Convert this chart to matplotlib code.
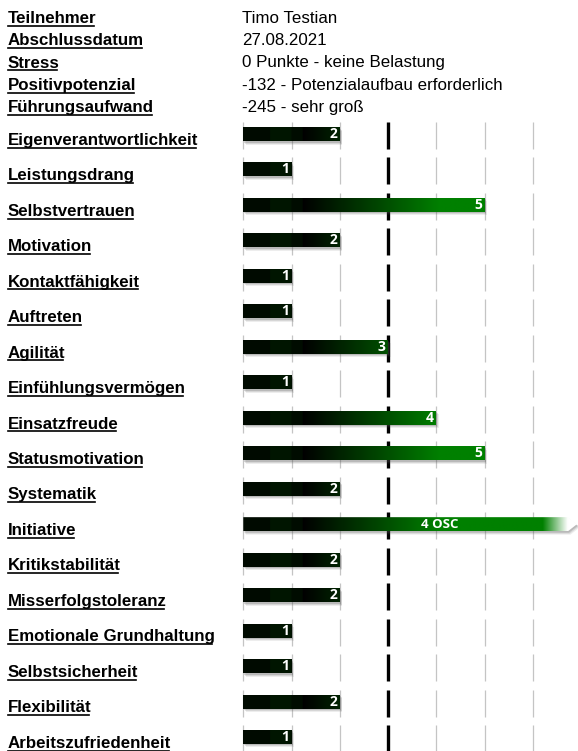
import numpy as np
import matplotlib
matplotlib.use("Agg")
import matplotlib.pyplot as plt
from matplotlib.patches import Polygon
from matplotlib.lines import Line2D

# ======================
# DATA
# ======================
header_labels = ["Teilnehmer", "Abschlussdatum", "Stress", "Positivpotenzial", "Führungsaufwand"]
header_values = ["Timo Testian", "27.08.2021", "0 Punkte - keine Belastung",
                 "-132 - Potenzialaufbau erforderlich", "-245 - sehr groß"]

categories = ["Eigenverantwortlichkeit", "Leistungsdrang", "Selbstvertrauen", "Motivation",
              "Kontaktfähigkeit", "Auftreten", "Agilität", "Einfühlungsvermögen", "Einsatzfreude",
              "Statusmotivation", "Systematik", "Initiative", "Kritikstabilität",
              "Misserfolgstoleranz", "Emotionale Grundhaltung", "Selbstsicherheit",
              "Flexibilität", "Arbeitszufriedenheit"]
values = [2, 1, 5, 2, 1, 1, 3, 1, 4, 5, 2, 4, 2, 2, 1, 1, 2, 1]
osc = [False] * 11 + [True] + [False] * 6
grid_ticks = [0, 1, 2, 3, 4, 5, 6]
mid_tick = 3

# ======================
# LAYOUT (pixels)
# ======================
W, H = 578, 751
x0_px, unit_px = 243.3, 48.25
row0_px, row_px = 134.0, 35.47
bar_h = 14 / row_px
osc_end = (577 - x0_px) / unit_px
FS = 12.2

fig = plt.figure(figsize=(W / 100, H / 100), dpi=100)
ax = fig.add_axes([0, 0, 1, 1])
xmin, xmax = -x0_px / unit_px, (W - x0_px) / unit_px
ymin, ymax = (H - row0_px) / row_px, -row0_px / row_px
ax.axis("off")


def px_to_fig(x, y):
    return x / W, 1 - y / H


# ======================
# GRID SEGMENTS
# ======================
for i in range(len(categories)):
    for t in grid_ticks:
        if t == mid_tick:
            ax.vlines(t, i - 12 / row_px, i + 15 / row_px, color="black", lw=2.4, zorder=1)
        else:
            ax.vlines(t, i - 12 / row_px, i + 15 / row_px, color="#c4c4c4", lw=0.9, zorder=1)

# ======================
# BAR COLOURS
# ======================
xs = np.linspace(0, osc_end, 800)
px = x0_px + xs * unit_px
ramp = np.clip((px - 303) / 137, 0, 1) * 128 / 255
block = np.where(xs < 0.56, 0.04, np.where(xs < 1.0, 0.085, 0.05))
block = np.where(px < 303, block, 0)
g = np.maximum(ramp, block)
rgb = np.zeros((1, len(xs), 3))
rgb[0, :, 1] = g
fade = np.clip((px - 543) / 25, 0, 1)
for c in range(3):
    rgb[0, :, c] = rgb[0, :, c] * (1 - fade) + fade

# ======================
# BARS
# ======================
for i, (v, o) in enumerate(zip(values, osc)):
    top, bot = i - bar_h / 2, i + bar_h / 2
    end = osc_end if o else v
    if o:
        tip = end - 9 / unit_px
        pts = [(0, top), (tip, top), (end, i), (tip, bot), (0, bot)]
    else:
        pts = [(0, top), (end, top), (end, bot), (0, bot)]
    # shadow
    for k, a in [(3.5, 0.10), (2.5, 0.15), (1.5, 0.22)]:
        sh = Polygon([(p + k * 0.7 / unit_px, q + k / row_px) for p, q in pts],
                     closed=True, fc="#555555", ec="none", alpha=a, zorder=2)
        ax.add_patch(sh)
    clip = Polygon(pts, closed=True, fc="none", ec="none", zorder=3)
    ax.add_patch(clip)
    im = ax.imshow(rgb, extent=[0, osc_end, bot, top], aspect="auto",
                   interpolation="bilinear", zorder=3)
    im.set_clip_path(clip)
    if o:
        ax.text(4.08, i, f"{v} OSC", color="white", fontsize=9.5, fontweight="bold",
                family="Open Sans", ha="center", va="center", zorder=4)
    else:
        ax.text(v - 2.5 / unit_px, i, str(v), color="white", fontsize=10, fontweight="bold",
                family="Open Sans", ha="right", va="center", zorder=4)

ax.set_xlim(xmin, xmax)
ax.set_ylim(ymin, ymax)

# ======================
# TEXT
# ======================
underlined = []
for k, (lab, val) in enumerate(zip(header_labels, header_values)):
    yb = 22.7 + 22.4 * k
    t = fig.text(*px_to_fig(8, yb), lab, fontsize=FS, fontweight="bold",
                 family="Liberation Sans", va="baseline", ha="left")
    underlined.append((t, yb))
    fig.text(*px_to_fig(242, yb), val, fontsize=FS,
             family="Liberation Sans", va="baseline", ha="left")

for i, lab in enumerate(categories):
    yb = row0_px + row_px * i + 10.8
    t = fig.text(*px_to_fig(8, yb), lab, fontsize=FS, fontweight="bold",
                 family="Liberation Sans", va="baseline", ha="left")
    underlined.append((t, yb))

fig.canvas.draw()
r = fig.canvas.get_renderer()
for t, yb in underlined:
    bb = t.get_window_extent(r)
    y_a = 1 - (yb + 2.8) / H
    fig.add_artist(Line2D([bb.x0 / W, (bb.x1 - 2.5) / W], [y_a, y_a], color="black", lw=1.2,
                          transform=fig.transFigure))

fig.savefig("out.png", dpi=100)
